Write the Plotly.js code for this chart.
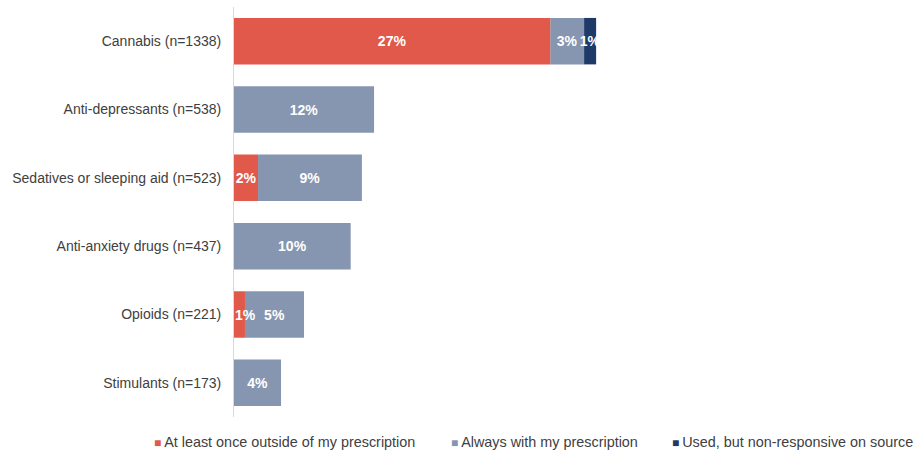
<!DOCTYPE html>
<html>
<head>
<meta charset="utf-8">
<script src="https://cdn.plot.ly/plotly-3.0.1.min.js"></script>
<style>html,body{margin:0;padding:0;background:#fff}#chart{width:915px;height:451px}</style>
</head>
<body>
<div id="chart"></div>
<script>
const categories = ["Cannabis (n=1338)", "Anti-depressants (n=538)", "Sedatives or sleeping aid (n=523)", "Anti-anxiety drugs (n=437)", "Opioids (n=221)", "Stimulants (n=173)"];
const outsidePrescription = [27.1, 0, 2.06, 0, 0.94, 0];
const withPrescription = [2.9, 12.0, 8.9, 10.0, 5.06, 4.03];
const nonResponsive = [1.03, 0, 0, 0, 0, 0];
const seriesNames = ["At least once outside of my prescription", "Always with my prescription", "Used, but non-responsive on source"];
const seriesColors = ["#E0594A", "#8796B0", "#1F3A68"];

function labels(vals, padSmall) {
  return vals.map(v => {
    if (v <= 0) return "";
    const t = Math.round(v) + "%";
    return (padSmall && v < 1.5) ? "\u00a0\u00a0\u00a0" + t : t;
  });
}

// stacked segments: each starts where the previous ends
const allSeries = [outsidePrescription, withPrescription, nonResponsive];
const bases = [
  outsidePrescription.map(() => 0),
  outsidePrescription.slice(),
  outsidePrescription.map((v, k) => v + withPrescription[k])
];
const legendIds = ["legend", "legend2", "legend3"];

function barTrace(i) {
  return {
    type: "bar",
    orientation: "h",
    y: categories,
    x: allSeries[i],
    base: bases[i],
    name: seriesNames[i],
    marker: {color: seriesColors[i]},
    text: labels(allSeries[i], i === 0),
    textposition: "inside",
    insidetextanchor: "middle",
    textangle: 0,
    constraintext: "none",
    textfont: {color: "#ffffff", size: 14, family: "Liberation Sans, Arial, sans-serif", weight: "bold"},
    hoverinfo: "skip",
    showlegend: false
  };
}
// draw the first series last so its labels stay on top
const traces = [barTrace(1), barTrace(2), barTrace(0)];

// legend entries (square glyph in the colour of each series)
seriesNames.forEach((n, i) => {
  traces.push({
    type: "scatter", mode: "markers", x: [null], y: [null],
    name: "<span style='color:" + seriesColors[i] + ";font-size:12px'>■</span>\u2009" + n,
    marker: {symbol: "square", size: 1, color: "rgba(0,0,0,0)"},
    legend: legendIds[i],
    showlegend: true, hoverinfo: "skip"
  });
});

function legendAt(x, anchor) {
  return {
    orientation: "h",
    xref: "container", yref: "container",
    x: x, xanchor: anchor,
    y: 0.022, yanchor: "middle",
    font: {size: 14.4, color: "#404040", family: "Liberation Sans, Arial, sans-serif"},
    itemwidth: 30,
    bgcolor: "rgba(0,0,0,0)"
  };
}

const layout = {
  width: 915, height: 451,
  margin: {l: 234, r: 15, t: 7, b: 34},
  barmode: "overlay",
  bargap: 0.32,
  paper_bgcolor: "#ffffff",
  plot_bgcolor: "#ffffff",
  font: {family: "Liberation Sans, Arial, sans-serif", size: 14, color: "#404040"},
  xaxis: {range: [0, 57.07], visible: false, fixedrange: true},
  yaxis: {
    type: "category",
    categoryorder: "array",
    categoryarray: categories,
    autorange: "reversed",
    showline: true, linecolor: "#d9d9d9", linewidth: 1,
    showgrid: false, zeroline: false, ticks: "",
    ticklabelstandoff: 9,
    tickfont: {size: 14, color: "#404040"}
  },
  showlegend: true,
  legend: legendAt(114 / 915, "left"),
  legend2: legendAt(411 / 915, "left"),
  legend3: legendAt(632 / 915, "left")
};

Plotly.newPlot("chart", traces, layout, {displayModeBar: false, staticPlot: true});
</script>
</body>
</html>
